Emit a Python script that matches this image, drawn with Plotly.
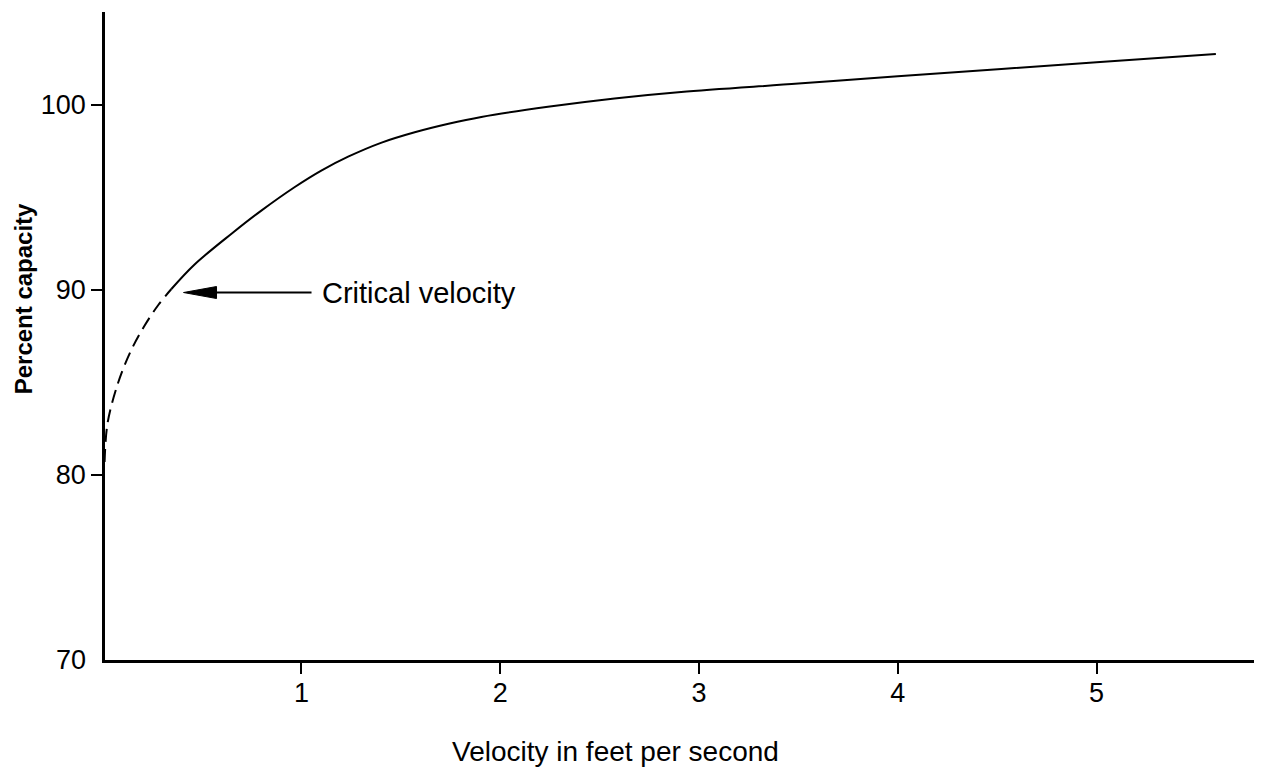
import plotly.graph_objects as go

# ---- data ----
dashed_x = [0.01, 0.025, 0.078, 0.145, 0.21, 0.281, 0.346]
dashed_y = [80.7, 82.8, 84.98, 86.77, 88.05, 89.2, 90.05]

solid_x = [0.346, 0.46, 0.65, 0.80, 0.965, 1.10, 1.235, 1.40, 1.57, 1.74,
           1.905, 2.24, 2.575, 2.91, 3.5, 4.0, 5.0, 5.60]
solid_y = [90.05, 91.35, 93.05, 94.3, 95.55, 96.45, 97.2, 97.95, 98.52, 98.98,
           99.35, 99.9, 100.35, 100.7, 101.15, 101.55, 102.3, 102.75]

x_tick_vals = [1, 2, 3, 4, 5]
x_tick_text = ["1", "2", "3", "4", "5"]
y_tick_vals = [70, 80, 90, 100]
y_tick_text = ["70", "80", "90", "100"]

critical_x = 0.407
critical_y = 89.86
critical_label = "Critical velocity"

x_title = "Velocity in feet per second"
y_title = "Percent capacity"

FONT = "Liberation Sans, Arial, Helvetica, sans-serif"

fig = go.Figure()
fig.add_trace(go.Scatter(x=dashed_x, y=dashed_y, mode="lines",
                         line=dict(color="black", width=2, dash="13px,7px", shape="spline"),
                         hoverinfo="skip", showlegend=False))
fig.add_trace(go.Scatter(x=solid_x, y=solid_y, mode="lines",
                         line=dict(color="black", width=2, shape="spline"),
                         hoverinfo="skip", showlegend=False))

# arrow (tip anchored on the data point, drawn in pixels)
fig.add_shape(type="path", xref="x", yref="y", xsizemode="pixel", ysizemode="pixel",
              xanchor=critical_x, yanchor=critical_y,
              path="M0,0 L33,6 L33,-6 Z", fillcolor="black", line=dict(color="black", width=1))
fig.add_shape(type="path", xref="x", yref="y", xsizemode="pixel", ysizemode="pixel",
              xanchor=critical_x, yanchor=critical_y,
              path="M30,0 L128,0", line=dict(color="black", width=2))
fig.add_annotation(x=critical_x, y=critical_y, xref="x", yref="y", text=critical_label,
                   showarrow=False, xanchor="left", yanchor="middle", xshift=136,
                   font=dict(family=FONT, size=29, color="black"))

# "70" label (the corner has no tick mark)
fig.add_annotation(x=0, xref="paper", y=y_tick_vals[0], yref="y", text=y_tick_text[0],
                   showarrow=False, xanchor="right", yanchor="middle", xshift=-17,
                   font=dict(family=FONT, size=27, color="black"))

# axis titles
fig.add_annotation(x=0, xref="paper", xshift=-81.5, y=0.5574, yref="paper", text="<b>%s</b>" % y_title,
                   textangle=-90, showarrow=False, xanchor="center", yanchor="middle",
                   font=dict(family=FONT, size=24, color="black"))
fig.add_annotation(x=0.4426, xref="paper", y=-0.1411, yref="paper", text=x_title,
                   showarrow=False, xanchor="center", yanchor="middle",
                   font=dict(family=FONT, size=28, color="black"))

fig.update_layout(
    width=1254, height=760,
    margin=dict(l=96.5, r=3, t=4, b=107.5),
    plot_bgcolor="white", paper_bgcolor="white",
    font=dict(family=FONT, size=27, color="black"),
    showlegend=False,
)
fig.update_xaxes(range=[0.012, 5.817], showgrid=False, zeroline=False,
                 showline=True, linecolor="black", linewidth=2.5,
                 ticks="outside", ticklen=11, tickwidth=2, tickcolor="black",
                 tickvals=x_tick_vals, ticktext=x_tick_text, ticklabelstandoff=-4,
                 tickfont=dict(family=FONT, size=27, color="black"))
fig.update_yaxes(range=[70, 105.02], showgrid=False, zeroline=False,
                 showline=True, linecolor="black", linewidth=2.5,
                 ticks="outside", ticklen=11, tickwidth=2, tickcolor="black",
                 tickvals=y_tick_vals[1:], ticktext=y_tick_text[1:],
                 tickfont=dict(family=FONT, size=27, color="black"))

fig.write_html("out.html")
